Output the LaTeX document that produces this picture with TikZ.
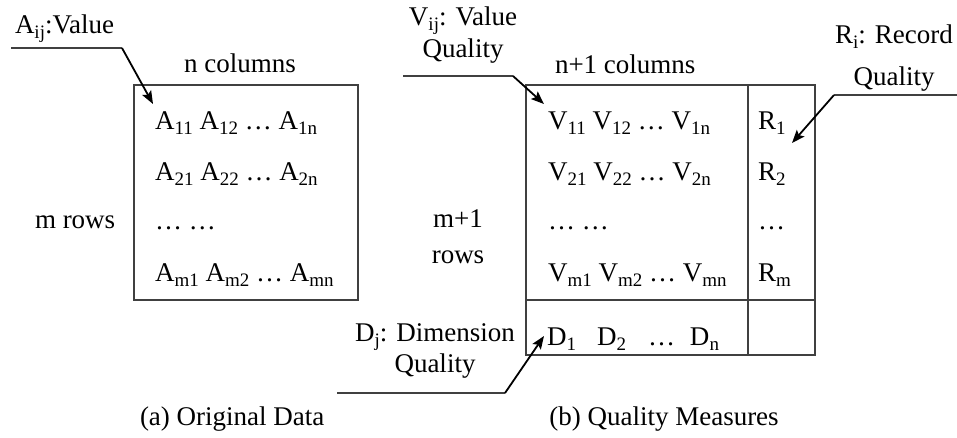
\documentclass[tikz,border=0pt]{standalone}
\usepackage{fontspec}
\setmainfont{Liberation Serif}
\usetikzlibrary{arrows.meta}
\newcommand\sbs[1]{\raisebox{-0.22em}{\fontsize{19}{19}\selectfont #1}}
\begin{document}
\begin{tikzpicture}[x=1pt,y=-1pt,
  every node/.style={font=\fontsize{27}{32}\selectfont, inner sep=0pt, outer sep=0pt},
  txt/.style={anchor=base west},
  ctxt/.style={anchor=base, align=center},
  frame/.style={draw=black!75, line width=1.2pt},
  leader/.style={draw=black!75, line width=1.2pt},
  pointer/.style={draw=black, line width=1.8pt, -{Stealth[length=13pt,width=10pt,inset=2.5pt]}}]

\useasboundingbox (0,0) rectangle (957,437);

% ---------- (a) Original Data ----------
\node[frame, anchor=north west, minimum width=224pt, minimum height=215pt] (boxA) at (134,85) {};
\node[txt] (a1) at (155,129) {A\sbs{11} A\sbs{12} … A\sbs{1n}};
\node[txt] (a2) at (155,180) {A\sbs{21} A\sbs{22} … A\sbs{2n}};
\node[txt] (a3) at (155,229) {… …};
\node[txt] (a4) at (155,281) {A\sbs{m1} A\sbs{m2} … A\sbs{mn}};
\node[anchor=base] (ncol) at (240,72) {n columns};
\node[txt] (mrows) at (35,228) {m rows};
\node[txt] (alab) at (15,33) {A\sbs{ij}:Value};
\coordinate (al0) at (11,48);
\coordinate (al1) at (122,48);
\coordinate (atip) at (153,104);
\draw[leader] (al0) -- (al1);
\draw[pointer] (al1) -- (atip);
\node[txt] (capa) at (140,425) {(a) Original Data};

% ---------- (b) Quality Measures ----------
\node[frame, anchor=north west, minimum width=289pt, minimum height=270pt] (boxB) at (526,85) {};
\coordinate (dtop) at (748,85);
\coordinate (dbot) at (748,355);
\coordinate (hl) at (526,300);
\coordinate (hr) at (815,300);
\draw[frame] (dtop) -- (dbot);
\draw[frame] (hl) -- (hr);

\node[txt] (v1) at (548,129) {V\sbs{11} V\sbs{12} … V\sbs{1n}};
\node[txt] (v2) at (548,180) {V\sbs{21} V\sbs{22} … V\sbs{2n}};
\node[txt] (v3) at (548,229) {… …};
\node[txt] (v4) at (548,281) {V\sbs{m1} V\sbs{m2} … V\sbs{mn}};
\node[txt] (r1) at (758,129) {R\sbs{1}};
\node[txt] (r2) at (758,180) {R\sbs{2}};
\node[txt] (r3) at (758,229) {…};
\node[txt] (r4) at (758,281) {R\sbs{m}};
\node[txt] (drow) at (547,345) {D\sbs{1}\hspace{21pt}D\sbs{2}\hspace{22pt}…\hspace{15pt}D\sbs{n}};

\node[txt] (n1col) at (555,73) {n+1 columns};
\node[ctxt, font=\fontsize{27}{36}\selectfont] (m1rows) at (458,263) {m+1\\rows};

\node[ctxt] (vlab) at (463,57) {V\sbs{ij}: Value\\Quality};
\coordinate (vl0) at (403,76);
\coordinate (vl1) at (513,76);
\coordinate (vtip) at (544,104);
\draw[leader] (vl0) -- (vl1);
\draw[pointer] (vl1) -- (vtip);

\node[ctxt, font=\fontsize{27}{42}\selectfont] (rlab) at (894,85) {R\sbs{i}: Record\\Quality};
\coordinate (rl0) at (834,95);
\coordinate (rl1) at (957,95);
\coordinate (rtip) at (792,143);
\draw[leader] (rl0) -- (rl1);
\draw[pointer] (rl0) -- (rtip);

\node[ctxt, font=\fontsize{27}{31}\selectfont] (dlab) at (435,372) {D\sbs{j}: Dimension\\Quality};
\coordinate (dl0) at (337,393);
\coordinate (dl1) at (505,393);
\coordinate (dtip) at (544,336);
\draw[leader] (dl0) -- (dl1);
\draw[pointer] (dl1) -- (dtip);

\node[anchor=base] (capb) at (664,425) {(b) Quality Measures};
\end{tikzpicture}
\end{document}
